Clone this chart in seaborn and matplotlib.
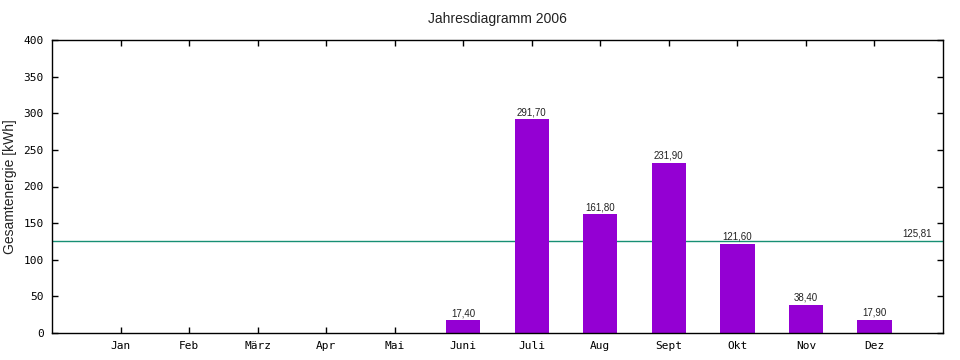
import matplotlib
matplotlib.use("Agg")
import matplotlib.pyplot as plt
import numpy as np
import pandas as pd
import seaborn as sns

MONTHS = ["Jan", "Feb", "März", "Apr", "Mai", "Juni", "Juli", "Aug", "Sept", "Okt", "Nov", "Dez"]
ENERGY = [0, 0, 0, 0, 0, 17.4, 291.7, 161.8, 231.9, 121.6, 38.4, 17.9]
Y_TICKS = [0, 50, 100, 150, 200, 250, 300, 350, 400]

BAR_COLOR = "#9400d3"
AVG_COLOR = "#178f74"
SANS = ["Liberation Sans", "DejaVu Sans"]
MONO = ["DejaVu Sans Mono"]


def de_num(v: float) -> str:
    return f"{v:.2f}".replace(".", ",")


def main() -> None:
    sns.set_theme(style="white")
    plt.rcParams["font.family"] = SANS

    df = pd.DataFrame({"month": MONTHS, "energy": ENERGY})
    active = df[df["energy"] > 0]
    avg = float(active["energy"].mean())

    fig = plt.figure(figsize=(9.6, 3.6), dpi=100)
    ax = fig.add_axes([52 / 960, 27 / 360, 891 / 960, 293 / 360])

    sns.barplot(data=df, x="month", y="energy", order=MONTHS, color=BAR_COLOR,
                saturation=1, width=0.5, ax=ax, linewidth=0)

    ax.set_xlim(-1, 12)
    ax.set_ylim(0, 400)
    ax.set_yticks(Y_TICKS)
    ax.axhline(avg, color=AVG_COLOR, lw=1.0, zorder=0.5)
    ax.text(11.62, avg + 3, de_num(avg), ha="center", va="bottom", fontsize=7, color="#222222")

    for i, v in enumerate(ENERGY):
        if v > 0:
            ax.text(i, v + 3, de_num(v), ha="center", va="bottom", fontsize=7, color="#222222")

    for spine in ax.spines.values():
        spine.set_visible(True)
        spine.set_color("black")
        spine.set_linewidth(1.0)

    ax.tick_params(axis="both", direction="in", length=4, width=1, color="black",
                   top=True, right=True, bottom=True, left=True, labelsize=8, pad=6)
    for lab in ax.get_xticklabels() + ax.get_yticklabels():
        lab.set_family(MONO)
        lab.set_color("black")

    ax.set_xlabel("")
    ax.set_ylabel("Gesamtenergie [kWh]", fontsize=10, color="#222222")
    ax.yaxis.set_label_coords(-0.039, 0.5)
    ax.set_title("Jahresdiagramm 2006", fontsize=10, color="#222222", pad=12)
    ax.grid(False)

    fig.savefig("out.png", dpi=100)
    plt.close(fig)


if __name__ == "__main__":
    main()
